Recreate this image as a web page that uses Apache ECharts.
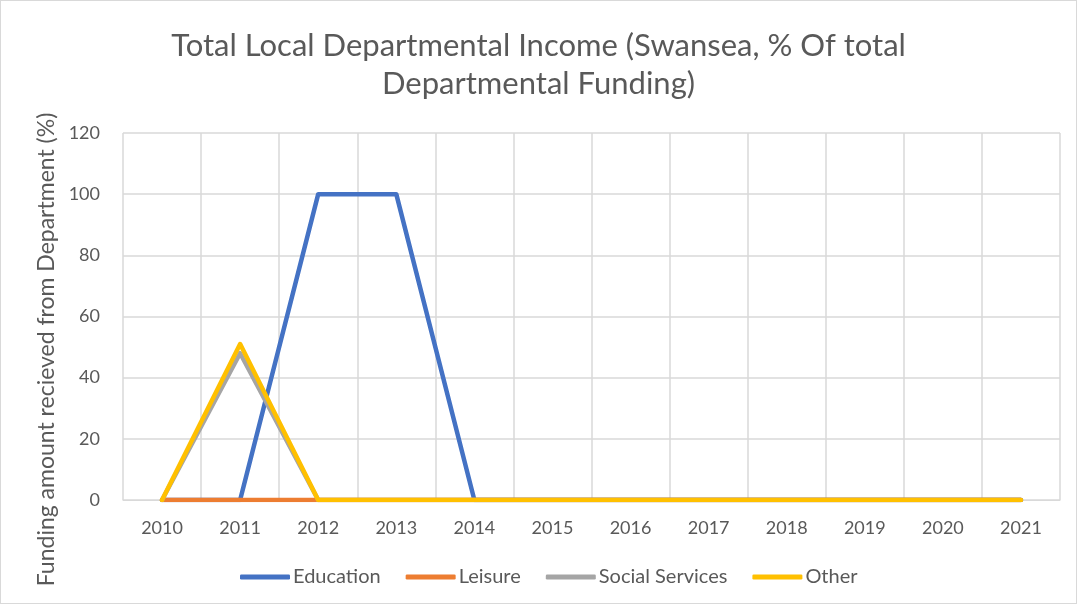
<!DOCTYPE html>
<html>
<head>
<meta charset="utf-8">
<script src="https://cdn.jsdelivr.net/npm/echarts@6/dist/echarts.min.js"></script>
<style>
  html, body { margin: 0; padding: 0; background: #fff; }
  #chart { width: 1077px; height: 604px; box-sizing: border-box; border: 1px solid #d9d9d9; }
</style>
</head>
<body>
<div id="chart"></div>
<script>
const years = ["2010", "2011", "2012", "2013", "2014", "2015", "2016", "2017", "2018", "2019", "2020", "2021"];
const education = [0, 0, 100, 100, 0, 0, 0, 0, 0, 0, 0, 0];
const leisure = [0, 0, 0, 0, 0, 0, 0, 0, 0, 0, 0, 0];
const socialServices = [0, 48, 0, 0, 0, 0, 0, 0, 0, 0, 0, 0];
const other = [0, 51, 0, 0, 0, 0, 0, 0, 0, 0, 0, 0];

const font = "Lato";
const textColor = "#595959";

const chart = echarts.init(document.getElementById("chart"));

const lineSeries = (name, data, color) => ({
  name,
  type: "line",
  data,
  showSymbol: false,
  symbol: "none",
  lineStyle: { color, width: 4.5, cap: "round", join: "round" },
  itemStyle: { color },
});

chart.setOption({
  animation: false,
  textStyle: { fontFamily: font },
  title: {
    text: "Total Local Departmental Income (Swansea, % Of total\nDepartmental Funding)",
    left: "center",
    top: 21,
    textStyle: { fontFamily: font, fontSize: 31, fontWeight: "normal", color: textColor, lineHeight: 38 },
  },
  legend: {
    top: 561,
    left: 234,
    icon: "roundRect",
    itemWidth: 50,
    itemHeight: 5,
    itemGap: 25,
    textStyle: { fontFamily: font, fontSize: 20, color: textColor, padding: [0, 0, 0, -2] },
    data: ["Education", "Leisure", "Social Services", "Other"],
  },
  grid: { left: 122, right: 16, top: 132, bottom: 103 },
  xAxis: {
    type: "category",
    data: years,
    boundaryGap: true,
    axisLine: { lineStyle: { color: "#d9d9d9", width: 1 } },
    axisTick: { show: false },
    axisLabel: { fontFamily: font, fontSize: 18, color: textColor, margin: 19 },
    splitLine: { show: true, lineStyle: { color: "#d9d9d9", width: 1.5 } },
  },
  yAxis: {
    type: "value",
    min: 0,
    max: 120,
    interval: 20,
    name: "Funding amount recieved from Department (%)",
    nameLocation: "middle",
    nameGap: 58,
    nameTextStyle: { fontFamily: font, fontSize: 23, color: textColor, padding: [0, 66, 0, 0] },
    axisLine: { show: false },
    axisTick: { show: false },
    axisLabel: { fontFamily: font, fontSize: 18, color: textColor, margin: 23 },
    splitLine: { lineStyle: { color: "#d9d9d9", width: 1.5 } },
  },
  series: [
    lineSeries("Education", education, "#4472c4"),
    lineSeries("Leisure", leisure, "#ed7d31"),
    lineSeries("Social Services", socialServices, "#a5a5a5"),
    lineSeries("Other", other, "#ffc000"),
  ],
});
</script>
</body>
</html>
